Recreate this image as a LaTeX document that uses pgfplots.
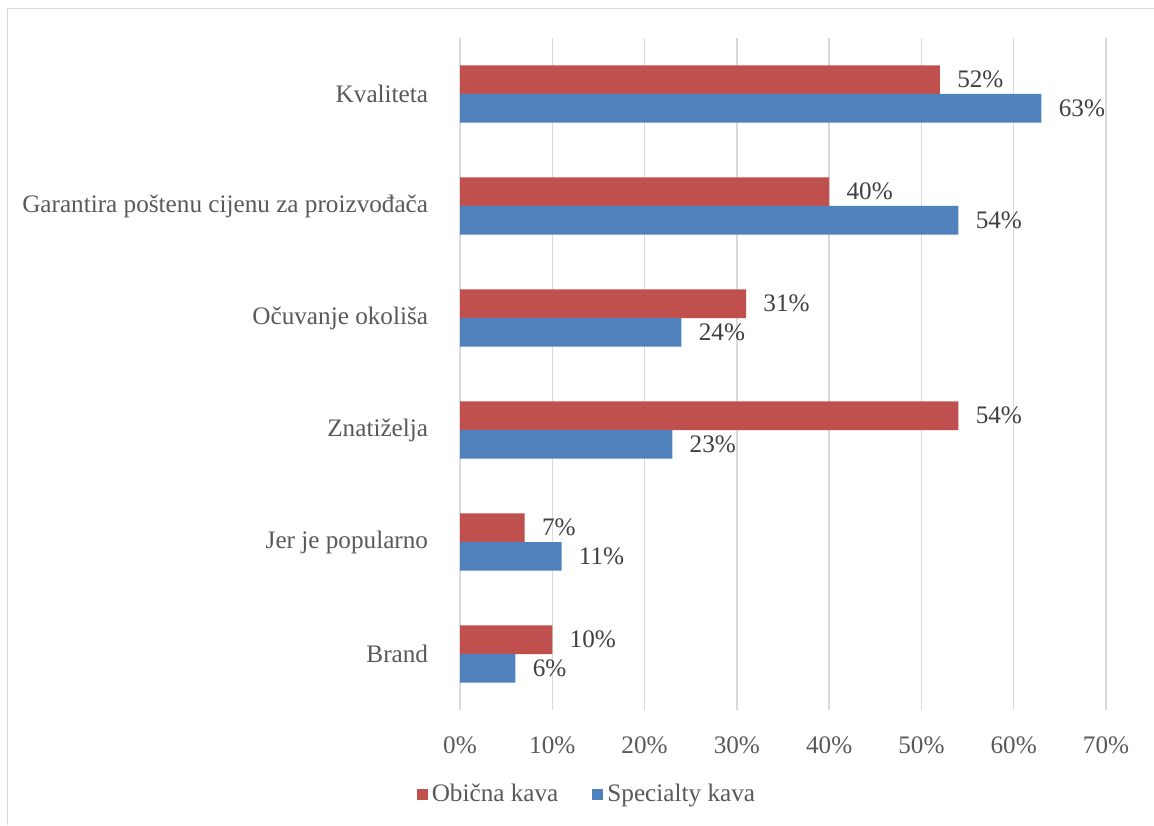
\documentclass[border=0pt]{standalone}
\usepackage{pgfplots}
\pgfplotsset{compat=1.18}
\usepackage{fontspec}
\setmainfont{Liberation Serif}
\definecolor{obicna}{HTML}{C0504D}
\definecolor{specialty}{HTML}{4F81BD}
\definecolor{gridc}{HTML}{D9D9D9}
\definecolor{txt}{HTML}{595959}
\definecolor{lbl}{HTML}{404040}
\newcommand{\chartfont}{\fontsize{12.6}{15}\selectfont}

\begin{document}
\begin{tikzpicture}
\path[use as bounding box] (0,0) rectangle (577pt,412.5pt);
\draw[gridc, line width=0.8pt] (3.75pt,0) -- (3.75pt,408.25pt) -- (577pt,408.25pt);
\begin{axis}[at={(230pt,57.5pt)}, anchor=south west,
             scale only axis, width=323pt, height=336pt,
             xbar, xmin=0, xmax=70, ymin=-0.5, ymax=5.5,
             bar width=0.255,
             axis line style={draw=none},
             tick style={draw=none},
             xmajorgrids, grid style={gridc, line width=0.75pt},
             xtick={0,10,...,70},
             xticklabel={\pgfmathprintnumber{\tick}\%},
             /pgf/number format/assume math mode=true,
             ytick={0,...,5},
             yticklabels={Brand, Jer je popularno, Znatiželja, Očuvanje okoliša,
                          Garantira poštenu cijenu za proizvođača, Kvaliteta},
             ticklabel style={text=txt, font=\chartfont, inner sep=0pt},
             xticklabel style={anchor=base, yshift=-21.5pt},
             yticklabel style={anchor=east, xshift=-11.5pt},
             nodes near coords={\pgfmathprintnumber{\pgfplotspointmeta}\%},
             nodes near coords style={text=lbl, font=\chartfont, anchor=west,
                                       inner sep=0pt, xshift=8.5pt},
             legend style={at={(0.198,-0.125)}, anchor=center, draw=none,
                           font=\chartfont, text=txt, legend columns=2,
                           /tikz/every even column/.append style={column sep=15pt}},
             legend image code/.code={\fill[#1] (0pt,-2.75pt) rectangle (5.5pt,2.75pt);}]
\addplot[fill=obicna, draw=none, bar shift=0.1275] coordinates {
    (10,0) (7,1) (54,2) (31,3) (40,4) (52,5)
};
\addlegendentry{Obična kava}
\addplot[fill=specialty, draw=none, bar shift=-0.1275] coordinates {
    (6,0) (11,1) (23,2) (24,3) (54,4) (63,5)
};
\addlegendentry{Specialty kava}
\end{axis}
\end{tikzpicture}
\end{document}
